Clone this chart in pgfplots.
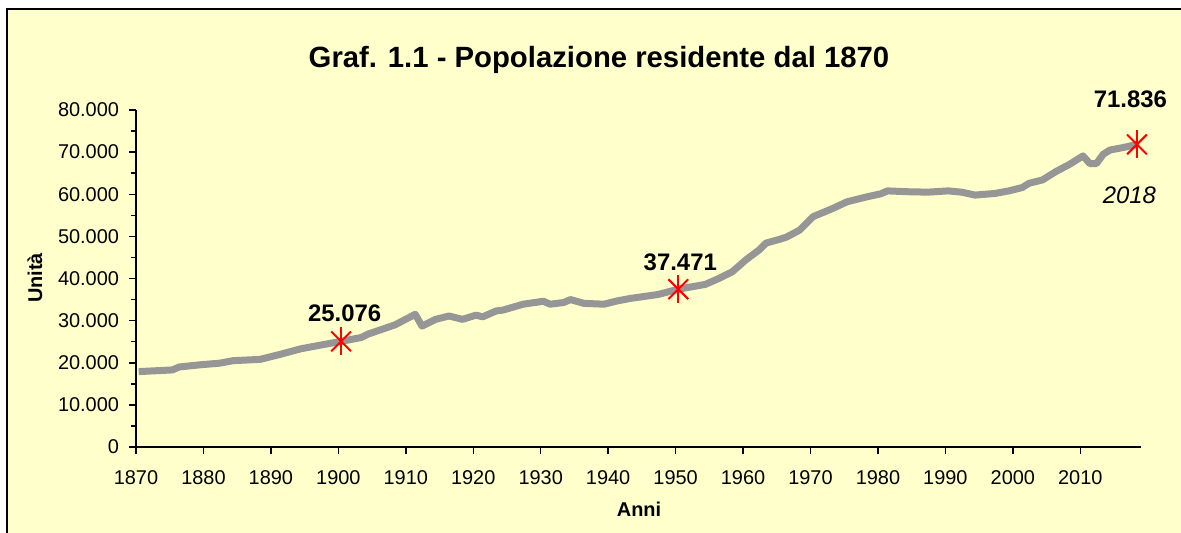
\documentclass[border=0pt]{standalone}
\usepackage{fontspec}
\setmainfont{Liberation Sans}
\usepackage{pgfplots}
\usepackage{pgfplotstable}
\pgfplotsset{compat=1.18}
\definecolor{bg}{RGB}{255,255,204}
\definecolor{linegray}{RGB}{150,150,150}
\definecolor{markred}{RGB}{255,0,0}
\pgfplotstableread{
year pop
1870 17900
1875 18300
1876 19000
1879 19500
1882 19900
1884 20500
1888 20800
1891 22000
1894 23300
1897 24200
1900 25076
1903 26000
1904 26800
1908 29000
1911 31500
1912 28700
1914 30300
1916 31100
1918 30300
1920 31300
1921 30900
1923 32300
1924 32500
1927 33900
1930 34600
1931 33900
1933 34300
1934 35000
1936 34100
1939 33900
1941 34700
1943 35300
1947 36200
1950 37471
1954 38600
1956 40000
1958 41600
1960 44400
1962 46800
1963 48400
1965 49300
1966 49800
1968 51500
1970 54700
1973 56700
1975 58200
1978 59400
1980 60100
1981 60800
1984 60600
1987 60500
1990 60800
1992 60500
1994 59800
1997 60200
1999 60800
2001 61600
2002 62600
2004 63400
2006 65400
2008 67100
2010 69100
2011 67300
2012 67300
2013 69500
2014 70500
2016 71100
2018 71836
}\popdata
\pgfplotstableread{
year pop
1900 25076
1950 37471
2018 71836
}\keydata
\begin{document}
\begin{tikzpicture}
\useasboundingbox (0,0) rectangle (590.5bp,-266.5bp);
\fill[white] (0,0) rectangle (590.5bp,-266.5bp);
\filldraw[fill=bg, draw=black, line width=1bp] (3.5bp,-4.5bp) rectangle (600bp,-280bp);
\begin{axis}[
  at={(68bp,-223.5bp)}, anchor=south west,
  scale only axis, width=502.5bp, height=168.5bp,
  xmin=1870, xmax=2019, ymin=0, ymax=80000,
  axis x line=bottom, axis y line=left,
  axis line style={line width=0.75bp, -},
  xtick={1870,1880,...,2010},
  ytick={0,10000,...,80000},
  minor ytick={5000,15000,...,75000},
  tick align=outside,
  major tick length=3.5bp, minor tick length=2.5bp,
  tick style={black, line width=0.75bp},
  scaled y ticks=false, scaled x ticks=false,
  x tick label style={/pgf/number format/1000 sep={}, yshift=-5bp},
  y tick label style={/pgf/number format/1000 sep={.}, xshift=-1.5bp},
  /pgf/number format/assume math mode=true,
  tick label style={font=\fontsize{10}{12}\selectfont},
  clip=false,
]
\addplot[linegray, line width=3.5bp, line join=round, no marks] table[x expr=\thisrow{year}+0.4, y=pop] {\popdata};
\addplot[only marks, mark=x, mark size=7bp, markred, mark options={line width=1bp}] table[x expr=\thisrow{year}+0.4, y=pop] {\keydata};
\addplot[only marks, mark=|, mark size=7bp, markred, mark options={line width=1bp}] table[x expr=\thisrow{year}+0.4, y=pop] {\keydata};
\node[font=\bfseries\fontsize{12}{14}\selectfont] at (axis cs:1900.4,25076) [xshift=1.8bp, yshift=14.2bp] {25.076};
\node[font=\bfseries\fontsize{12}{14}\selectfont] at (axis cs:1950.4,37471) [xshift=1bp, yshift=13.3bp] {37.471};
\node[font=\bfseries\fontsize{12}{14}\selectfont] at (axis cs:2018.4,71836) [xshift=-3.25bp, yshift=22.5bp] {71.836};
\node[font=\itshape\fontsize{12}{14}\selectfont] at (axis cs:2018.4,71836) [xshift=-3.8bp, yshift=-25.2bp] {2018};
\end{axis}
\node[anchor=base, font=\bfseries\fontsize{14.7}{17}\selectfont] at (299.5bp,-33.5bp) {Graf. 1.1 - Popolazione residente dal 1870};
\node[font=\bfseries\fontsize{10}{12}\selectfont] at (319.5bp,-254.5bp) {Anni};
\node[font=\bfseries\fontsize{10}{12}\selectfont, rotate=90] at (17.5bp,-139bp) {Unità};
\end{tikzpicture}
\end{document}
